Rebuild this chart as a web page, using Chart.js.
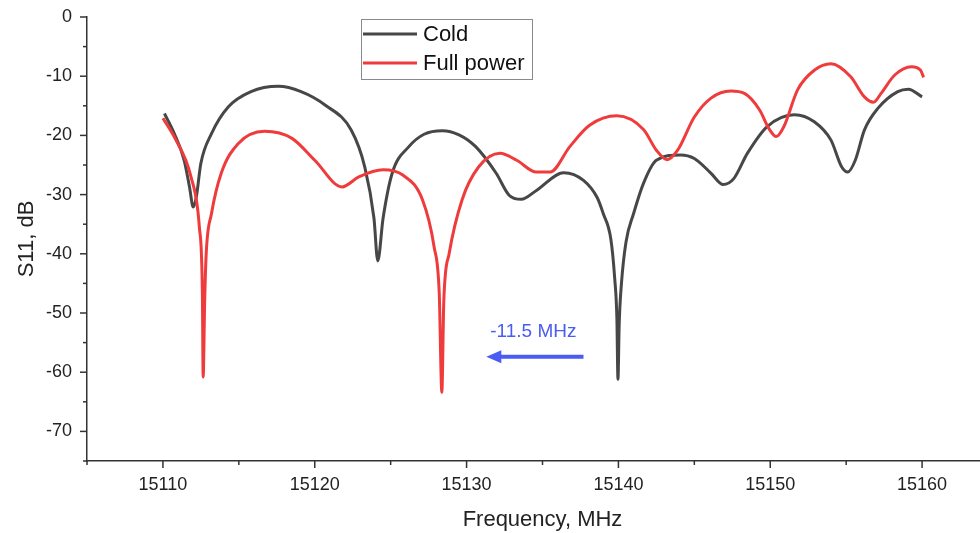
<!DOCTYPE html>
<html>
<head>
<meta charset="utf-8">
<script src="https://cdn.jsdelivr.net/npm/chart.js@4.4.1/dist/chart.umd.min.js"></script>
<style>
  html, body { margin: 0; padding: 0; background: #fff; overflow: hidden; }
  .wrap { width: 998px; height: 533px; position: relative; }
</style>
</head>
<body>
<div class="wrap"><canvas id="s11Chart"></canvas></div>
<script>
// S11 traces
const coldFreq = [15110.1, 15110.75, 15111.4, 15111.75, 15112.0, 15112.2, 15112.5, 15113.2, 15114.3, 15115.8,
  15117.6, 15119.1, 15120.7, 15122.4, 15123.3, 15123.9, 15124.15, 15124.5, 15125.1, 15126.2,
  15127.2, 15128.4, 15129.5, 15130.6, 15131.95, 15132.8, 15133.6, 15134.6, 15136.4, 15137.7,
  15138.6, 15139.0, 15139.5, 15139.75, 15139.9, 15139.97, 15140.05, 15140.2, 15140.5, 15141.0,
  15141.65, 15142.5, 15144.1, 15145.0, 15146.1, 15146.9, 15147.6, 15148.5, 15149.8, 15151.6,
  15152.9, 15154.0, 15154.7, 15155.1, 15155.6, 15156.2, 15157.1, 15158.4, 15159.1, 15160.0];
const coldS11 = [-16.3, -19.7, -24.2, -28.7, -32.1, -30.4, -24.7, -19.7, -15.2, -12.6,
  -11.7, -12.6, -14.9, -19.1, -25.4, -34, -41.2, -34, -26.4, -21.9,
  -19.8, -19.2, -19.9, -21.9, -26.4, -30.1, -30.8, -29.3, -26.3, -27.6,
  -30.5, -33.2, -37.5, -44, -51, -61.2, -52, -45, -38, -33.2,
  -28.1, -24.2, -23.3, -23.9, -26.4, -28.3, -27.3, -23.0, -18.5, -16.5,
  -17.7, -20.8, -25.3, -26.2, -24.2, -19.1, -15.4, -12.6, -12.2, -13.5];

const fullFreq = [15110, 15110.8, 15111.85, 15112.4, 15112.6, 15112.65, 15112.75, 15112.85, 15113.2, 15113.84,
  15114.95, 15116.7, 15118.5, 15120.0, 15121.8, 15122.9, 15124.5, 15125.8, 15127.1, 15127.86,
  15128.2, 15128.37, 15128.5, 15128.85, 15129.7, 15130.8, 15132.2, 15133.3, 15134.6, 15135.5,
  15136.8, 15138.1, 15139.9, 15141.65, 15142.5, 15143.2, 15143.9, 15145.0, 15146.1, 15147.4,
  15148.3, 15149.3, 15149.9, 15150.4, 15150.9, 15151.8, 15152.9, 15154.0, 15155.3, 15156.2,
  15156.8, 15157.3, 15158.2, 15159.3, 15159.9, 15160.1];
const fullS11 = [-17.1, -20.5, -27, -35.5, -46.7, -60.8, -48, -40, -33.2, -26.4,
  -21.4, -19.3, -20.5, -24.2, -28.7, -27, -25.8, -26.7, -30.9, -38.8,
  -46.7, -63.4, -47.9, -40, -30.9, -25.3, -23, -24.2, -26.2, -26.2,
  -21.9, -18.3, -16.7, -19.0, -22.5, -24.1, -22.5, -16.9, -13.7, -12.5,
  -12.9, -15.7, -18.8, -20.2, -18.5, -12.3, -9.0, -7.9, -10.1, -13.5,
  -14.4, -12.9, -9.8, -8.4, -9.0, -10.2];

const xTickValues = [15105, 15110, 15115, 15120, 15125, 15130, 15135, 15140, 15145, 15150, 15155, 15160];
const yTickValues = [-75, -70, -65, -60, -55, -50, -45, -40, -35, -30, -25, -20, -15, -10, -5, 0];

// frequency shift note
const shiftLabel = "-11.5 MHz";
const shiftFrom = 15137.7;
const shiftTo = 15131.3;
const shiftLevel = -57.4;
const shiftLabelFreq = 15134.4;
const shiftLabelLevel = -53.2;

const FONT = "Arial, 'Liberation Sans', sans-serif";
const coldColor = "#474747";
const fullColor = "#ef3b3b";
const arrowColor = "#4b5cf2";

const toPoints = (xs, ys) => xs.map((x, i) => ({ x: x, y: ys[i] }));

// major / minor tick marks drawn outside the axes
const axisTicks = {
  id: "axisTicks",
  afterDraw(chart) {
    const c = chart.ctx;
    const { x, y } = chart.scales;
    c.save();
    c.strokeStyle = "#333";
    c.lineWidth = 1.5;
    x.ticks.forEach((t) => {
      const px = x.getPixelForValue(t.value);
      const len = t.value % 10 === 0 ? 7 : 4;
      c.beginPath();
      c.moveTo(px, x.top);
      c.lineTo(px, x.top + len);
      c.stroke();
    });
    y.ticks.forEach((t) => {
      const py = y.getPixelForValue(t.value);
      const len = t.value % 10 === 0 ? 7 : 4;
      c.beginPath();
      c.moveTo(y.right, py);
      c.lineTo(y.right - len, py);
      c.stroke();
    });
    c.restore();
  },
};

// arrow note + boxed legend
const extras = {
  id: "extras",
  afterDatasetsDraw(chart) {
    const c = chart.ctx;
    const { x, y } = chart.scales;
    const x0 = x.getPixelForValue(shiftFrom);
    const x1 = x.getPixelForValue(shiftTo);
    const py = y.getPixelForValue(shiftLevel);
    c.save();
    c.strokeStyle = arrowColor;
    c.fillStyle = arrowColor;
    c.lineWidth = 4;
    c.beginPath();
    c.moveTo(x0, py);
    c.lineTo(x1 + 12, py);
    c.stroke();
    c.beginPath();
    c.moveTo(x1, py);
    c.lineTo(x1 + 15, py - 6.5);
    c.lineTo(x1 + 15, py + 6.5);
    c.closePath();
    c.fill();
    c.font = "19px " + FONT;
    c.textAlign = "center";
    c.textBaseline = "middle";
    c.fillText(shiftLabel, x.getPixelForValue(shiftLabelFreq), y.getPixelForValue(shiftLabelLevel));

    // legend
    c.fillStyle = "#fff";
    c.fillRect(361.5, 19.5, 171, 60);
    c.strokeStyle = "#8a8a8a";
    c.lineWidth = 1;
    c.strokeRect(361.5, 19.5, 171, 60);
    c.font = "22px " + FONT;
    c.textAlign = "left";
    chart.data.datasets.forEach((ds, i) => {
      const ly = 34 + i * 29;
      c.strokeStyle = ds.borderColor;
      c.lineWidth = 3;
      c.beginPath();
      c.moveTo(363, ly);
      c.lineTo(417, ly);
      c.stroke();
      c.fillStyle = "#111";
      c.fillText(ds.label, 423, ly + 1);
    });
    c.restore();
  },
};

new Chart(document.getElementById("s11Chart"), {
  type: "line",
  data: {
    datasets: [
      {
        label: "Cold",
        data: toPoints(coldFreq, coldS11),
        borderColor: coldColor,
        borderWidth: 3,
        pointRadius: 0,
        cubicInterpolationMode: "monotone",
        order: 1,
      },
      {
        label: "Full power",
        data: toPoints(fullFreq, fullS11),
        borderColor: fullColor,
        borderWidth: 3,
        pointRadius: 0,
        cubicInterpolationMode: "monotone",
        order: 0,
      },
    ],
  },
  options: {
    responsive: true,
    maintainAspectRatio: false,
    animation: false,
    layout: { padding: { top: 17, left: 0, right: 0, bottom: 0 } },
    plugins: { legend: { display: false }, tooltip: { enabled: false } },
    scales: {
      x: {
        type: "linear",
        min: 15105,
        max: 15165,
        afterBuildTicks: (s) => { s.ticks = xTickValues.map((v) => ({ value: v })); },
        afterFit: (s) => { s.height = 72; s.paddingLeft = 0; s.paddingRight = 0; },
        grid: { display: false, drawTicks: false },
        border: { display: true, color: "#333", width: 1.5 },
        ticks: {
          padding: 13,
          color: "#222",
          font: { family: FONT, size: 18 },
          maxRotation: 0,
          autoSkip: false,
          callback: (v) => (v % 10 === 0 ? String(v) : ""),
        },
        title: {
          display: true,
          text: "Frequency, MHz",
          color: "#222",
          font: { family: FONT, size: 22 },
          padding: { top: 0, bottom: 0 },
        },
      },
      y: {
        min: -75,
        max: 0,
        afterBuildTicks: (s) => { s.ticks = yTickValues.map((v) => ({ value: v })); },
        afterFit: (s) => { s.width = 87; s.paddingTop = 0; s.paddingBottom = 0; },
        grid: { display: false, drawTicks: false },
        border: { display: true, color: "#333", width: 1.5 },
        ticks: {
          padding: 15,
          color: "#222",
          font: { family: FONT, size: 18 },
          autoSkip: false,
          callback: (v) => (v % 10 === 0 ? String(v) : ""),
        },
        title: {
          display: true,
          text: "S11, dB",
          color: "#222",
          font: { family: FONT, size: 22 },
          padding: { top: 14, bottom: 0 },
        },
      },
    },
  },
  plugins: [axisTicks, extras],
});
</script>
</body>
</html>
